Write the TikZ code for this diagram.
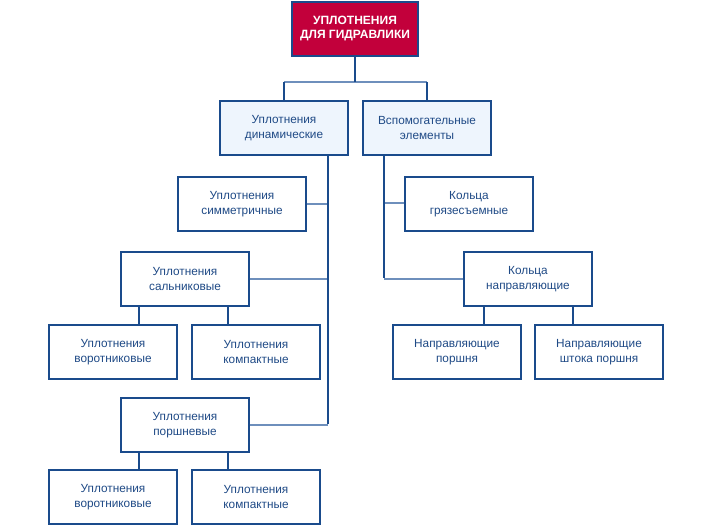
\documentclass[tikz,border=0pt]{standalone}
\usepackage{fontspec}
\setmainfont{Liberation Sans}
\definecolor{dblue}{HTML}{1A4B8C}
\definecolor{lblue}{HTML}{6E8FBC}
\definecolor{tblue}{HTML}{1F4A86}
\definecolor{boxfill}{HTML}{EEF5FD}
\definecolor{topred}{HTML}{C2003B}
\tikzset{
  box/.style={draw=dblue, line width=1.1pt, fill=white, minimum width=128pt, minimum height=54pt,
    inner sep=0pt, align=center, text=tblue, font=\fontsize{11.8}{15}\selectfont},
  lightbox/.style={box, fill=boxfill},
  topbox/.style={box, fill=topred, minimum width=126pt, text=white, font=\fontsize{12}{14}\selectfont\bfseries},
  vline/.style={draw=dblue, line width=1.1pt},
  hline/.style={draw=lblue, line width=1.1pt}
}
\begin{document}
\begin{tikzpicture}[x=1pt,y=-1pt]
\useasboundingbox (0,0) rectangle (712,528);
\node[topbox] (top) at (355,29) {УПЛОТНЕНИЯ\\ДЛЯ ГИДРАВЛИКИ};
\node[lightbox] (dyn) at (284,128) {Уплотнения\\динамические};
\node[lightbox] (aux) at (427,128) {Вспомогательные\\элементы};
\node[box] (sym) at (242,204) {Уплотнения\\симметричные};
\node[box] (sal) at (185,279) {Уплотнения\\сальниковые};
\node[box] (vor1) at (113,352) {Уплотнения\\воротниковые};
\node[box] (kom1) at (256,352) {Уплотнения\\компактные};
\node[box] (por) at (185,425) {Уплотнения\\поршневые};
\node[box] (vor2) at (113,497) {Уплотнения\\воротниковые};
\node[box] (kom2) at (256,497) {Уплотнения\\компактные};
\node[box] (gry) at (469,204) {Кольца\\грязесъемные};
\node[box] (napr) at (528,279) {Кольца\\направляющие};
\node[box] (np) at (457,352) {Направляющие\\поршня};
\node[box] (nsp) at (599,352) {Направляющие\\штока поршня};
\coordinate (jt) at (355,82);
\coordinate (lt) at (328,0);
\coordinate (rt) at (384,0);
% horizontal light connectors
\draw[hline] (dyn.north |- jt) -- (aux.north |- jt);
\draw[hline] (sym.east) -- (sym.east -| lt);
\draw[hline] (sal.east) -- (sal.east -| lt);
\draw[hline] (por.east) -- (por.east -| lt);
\draw[hline] ([yshift=1pt]gry.west) -- ([yshift=1pt]gry.west -| rt);
\draw[hline] (napr.west) -- (napr.west -| rt);
% vertical dark connectors
\draw[vline] (top.south) -- (jt);
\draw[vline] (dyn.north |- jt) -- (dyn.north);
\draw[vline] (aux.north |- jt) -- (aux.north);
\draw[vline] (dyn.south -| lt) -- ([yshift=0.55pt]por.east -| lt);
\draw[vline] (aux.south -| rt) -- ([yshift=0.55pt]napr.west -| rt);
\draw[vline] ([xshift=-46pt]sal.south) -- ([xshift=-46pt]sal.south |- vor1.north);
\draw[vline] ([xshift=43pt]sal.south) -- ([xshift=43pt]sal.south |- kom1.north);
\draw[vline] ([xshift=-46pt]por.south) -- ([xshift=-46pt]por.south |- vor2.north);
\draw[vline] ([xshift=43pt]por.south) -- ([xshift=43pt]por.south |- kom2.north);
\draw[vline] ([xshift=-44pt]napr.south) -- ([xshift=-44pt]napr.south |- np.north);
\draw[vline] ([xshift=45pt]napr.south) -- ([xshift=45pt]napr.south |- nsp.north);
\end{tikzpicture}
\end{document}
